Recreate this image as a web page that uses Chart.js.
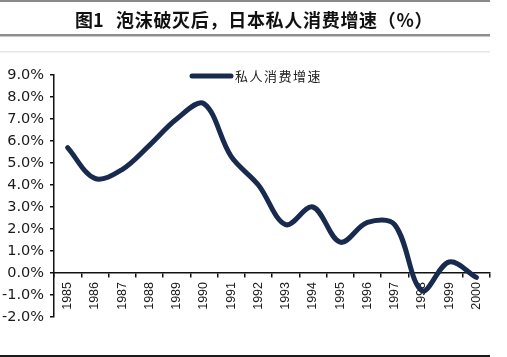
<!DOCTYPE html>
<html>
<head>
<meta charset="utf-8">
<script src="https://cdn.jsdelivr.net/npm/chart.js@4/dist/chart.umd.min.js"></script>
<style>
html,body{margin:0;padding:0;background:#fff;}
#wrap{width:507px;height:357px;position:relative;}
</style>
</head>
<body>
<div id="wrap"><canvas id="c" width="507" height="357"></canvas></div>
<script>
const years = ['1985','1986','1987','1988','1989','1990','1991','1992','1993','1994','1995','1996','1997','1998','1999','2000'];
const growth = [5.7, 4.3, 4.7, 5.8, 7.0, 7.7, 5.3, 4.0, 2.2, 3.0, 1.4, 2.3, 2.2, -0.8, 0.5, -0.2];
const seriesName = '私人消费增速';
const titleHead = '图1';
const titleText = '泡沫破灭后，日本私人消费增速（%）';
const yTicks = [-2, -1, 0, 1, 2, 3, 4, 5, 6, 7, 8, 9];

const lineColor = '#182b4f';

const decor = {
  id: 'decor',
  beforeDraw(chart) {
    const ctx = chart.ctx;
    ctx.save();
    ctx.fillStyle = '#fff';
    ctx.fillRect(0, 0, chart.width, chart.height);
    // top rules
    ctx.fillStyle = '#8a8a8a';
    ctx.fillRect(0, 0, 490, 2);
    ctx.fillStyle = '#8f8f8f';
    ctx.fillRect(0, 34, 490, 2.5);
    ctx.fillStyle = '#e6e6e6';
    ctx.fillRect(0, 51, 490, 1.5);
    // bottom rule
    ctx.fillStyle = '#1a1a1a';
    ctx.fillRect(0, 355, 490, 2);
    // title
    ctx.fillStyle = '#111';
    ctx.font = 'bold 18px "Noto Sans CJK SC"';
    ctx.textBaseline = 'middle';
    ctx.textAlign = 'left';
    ctx.fillText(titleHead, 75, 20);
    ctx.letterSpacing = '0.7px';
    ctx.fillText(titleText, 116, 20);
    ctx.restore();
  },
  afterDraw(chart) {
    const ctx = chart.ctx;
    const ds = chart.data.datasets[0];
    const x0 = chart.chartArea.left + 136;
    const y0 = chart.chartArea.top + 1;
    ctx.save();
    ctx.strokeStyle = ds.borderColor;
    ctx.lineWidth = 5;
    ctx.lineCap = 'round';
    ctx.beginPath();
    ctx.moveTo(x0 + 2, y0);
    ctx.lineTo(x0 + 41, y0);
    ctx.stroke();
    ctx.fillStyle = '#222';
    ctx.font = '13px "Noto Sans CJK SC"';
    ctx.textBaseline = 'middle';
    ctx.textAlign = 'left';
    ctx.letterSpacing = '1.5px';
    ctx.fillText(ds.label, x0 + 45, y0);
    ctx.restore();
  }
};

new Chart(document.getElementById('c'), {
  type: 'line',
  data: {
    labels: years,
    datasets: [{
      label: seriesName,
      data: growth,
      borderColor: lineColor,
      backgroundColor: lineColor,
      borderWidth: 5,
      tension: 0.35,
      pointRadius: 0,
      pointHoverRadius: 0,
      borderCapStyle: 'round',
      borderJoinStyle: 'round',
      fill: false
    }]
  },
  options: {
    responsive: false,
    devicePixelRatio: 1,
    animation: false,
    layout: { padding: { top: 75, bottom: 40, left: 0, right: 17 } },
    plugins: {
      legend: { display: false },
      title: { display: false },
      tooltip: { enabled: false }
    },
    scales: {
      x: {
        type: 'category',
        position: { y: 0 },
        offset: true,
        grid: {
          display: true,
          offset: true,
          drawOnChartArea: false,
          drawTicks: true,
          tickLength: 4,
          color: '#111',
          lineWidth: 1.5
        },
        border: { display: true, color: '#111', width: 1.5 },
        ticks: {
          autoSkip: false,
          maxRotation: 90,
          minRotation: 90,
          padding: 5,
          color: '#1a1a1a',
          font: { family: '"Liberation Sans", Arial, sans-serif', size: 12.5 }
        }
      },
      y: {
        min: -2,
        max: 9,
        afterFit(scale) { scale.width = 54; },
        afterBuildTicks(scale) { scale.ticks = yTicks.map(v => ({ value: v })); },
        grid: {
          display: true,
          drawOnChartArea: false,
          drawTicks: true,
          tickLength: 4,
          color: '#111',
          lineWidth: 1.5
        },
        border: { display: true, color: '#111', width: 1.5 },
        ticks: {
          padding: 6,
          color: '#1a1a1a',
          font: { family: '"DejaVu Sans", sans-serif', size: 14.5 },
          callback: v => Number(v).toFixed(1) + '%'
        }
      }
    }
  },
  plugins: [decor]
});
</script>
</body>
</html>
